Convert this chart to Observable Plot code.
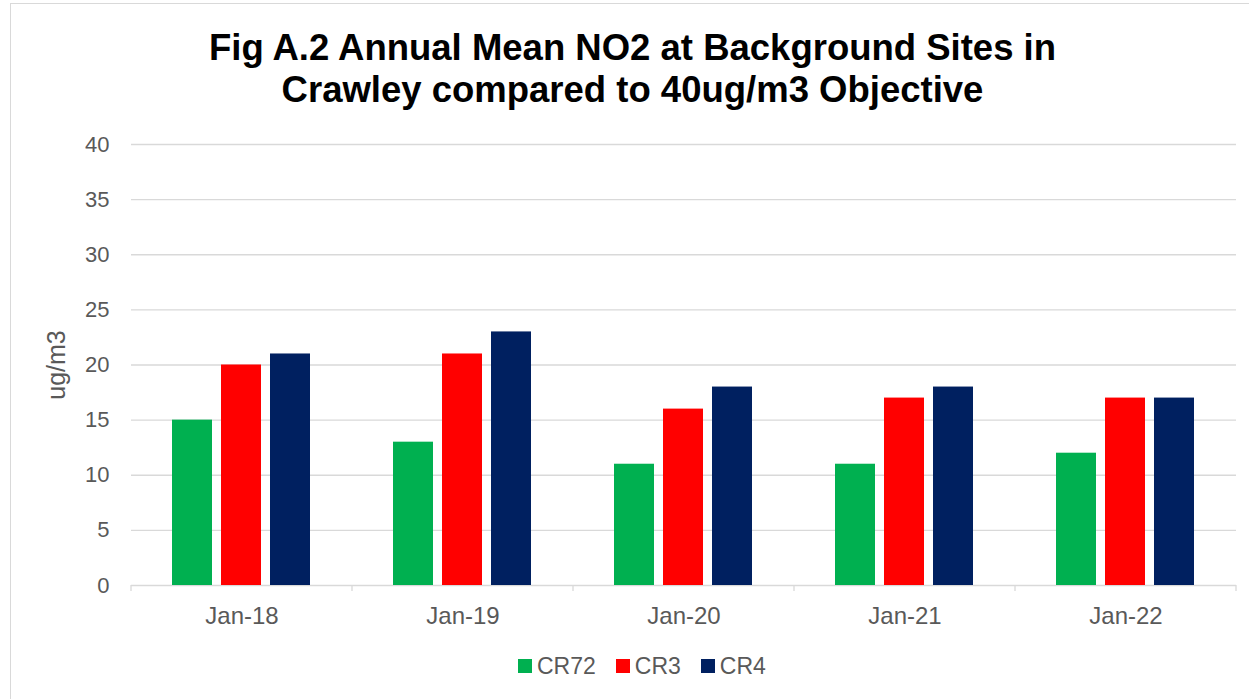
<!DOCTYPE html>
<html>
<head>
<meta charset="utf-8">
<script src="https://cdn.jsdelivr.net/npm/d3@7"></script>
<script src="https://cdn.jsdelivr.net/npm/@observablehq/plot@0.6"></script>
<style>
  html, body { margin: 0; padding: 0; background: #fff; overflow: hidden; }
  body { width: 1249px; height: 699px; position: relative; font-family: "Liberation Sans", Arial, sans-serif; }
  #frame { position: absolute; left: 10px; top: 3px; width: 1300px; height: 800px; border: 1.5px solid #d9d9d9; pointer-events: none; }
  #title { box-sizing: border-box; height: 124px; padding-top: 27px; text-align: center; font-weight: bold; font-size: 36.5px; line-height: 42px; color: #000; padding-left: 16px; }
  #chart svg { display: block; }
  #legend { position: absolute; top: 653px; left: 518px; display: flex; align-items: center; font-size: 23px; color: #595959; line-height: 26px; }
  #legend .item { display: flex; align-items: center; margin-right: 20px; }
  #legend .sw { width: 14px; height: 14px; margin-right: 5px; }
</style>
</head>
<body>
<div id="frame"></div>
<div id="title">Fig A.2 Annual Mean NO2 at Background Sites in<br>Crawley compared to 40ug/m3 Objective</div>
<div id="chart"></div>
<div id="legend"></div>
<script>
const dates = ["Jan-18", "Jan-19", "Jan-20", "Jan-21", "Jan-22"];
const series = ["CR72", "CR3", "CR4"];
const cr72 = [15, 13, 11, 11, 12];
const cr3 = [20, 21, 16, 17, 17];
const cr4 = [21, 23, 18, 18, 17];
const colors = ["#00B050", "#FF0000", "#002060"];
const yTicks = [0, 5, 10, 15, 20, 25, 30, 35, 40];

const seriesValues = {CR72: cr72, CR3: cr3, CR4: cr4};
const data = dates.flatMap((d, i) => series.map(s => ({date: d, site: s, value: seriesValues[s][i]})));

const plot = Plot.plot({
  width: 1249,
  height: 511,
  marginLeft: 130,
  marginRight: 13,
  marginTop: 20,
  marginBottom: 50,
  style: {fontFamily: "'Liberation Sans', Arial, sans-serif", fontSize: "20px", color: "#595959", background: "transparent", overflow: "visible"},
  fx: {domain: dates, padding: 0, label: null},
  x: {domain: series, axis: null, paddingInner: 0.18, paddingOuter: 0.83},
  y: {domain: [0, 40]},
  color: {domain: series, range: colors},
  marks: [
    Plot.ruleY(yTicks, {stroke: "#d9d9d9", strokeWidth: 1.3}),
    Plot.barY(data, {fx: "date", x: "site", y: "value", fill: "site"}),
    Plot.axisY({ticks: yTicks, tickSize: 0, tickPadding: 22, fontSize: 22, label: "ug/m3", labelArrow: "none", labelAnchor: "center", labelOffset: 84}),
    Plot.axisFx({anchor: "bottom", tickSize: 0, tickPadding: 21, fontSize: 24, label: null})
  ]
});
document.getElementById("chart").appendChild(plot);

// enlarge the y-axis title a little (Excel renders it larger than tick labels)
d3.select(plot).selectAll("[aria-label='y-axis label'] text, [aria-label='y-axis label']").style("font-size", "25px");

// category boundary tick marks, placed from the fx and y scales
const fx = plot.scale("fx");
const ys = plot.scale("y");
const y0 = ys.apply(0);
const bounds = dates.map(d => fx.apply(d)).concat([fx.apply(dates[dates.length - 1]) + fx.bandwidth]);
d3.select(plot).append("g").selectAll("line").data(bounds).join("line")
  .attr("x1", d => d).attr("x2", d => d)
  .attr("y1", y0).attr("y2", y0 + 6)
  .attr("stroke", "#d9d9d9").attr("stroke-width", 1.3);

// legend
const legend = d3.select("#legend");
series.forEach((s, i) => {
  const item = legend.append("div").attr("class", "item");
  item.append("div").attr("class", "sw").style("background", colors[i]);
  item.append("span").text(s);
});
</script>
</body>
</html>
